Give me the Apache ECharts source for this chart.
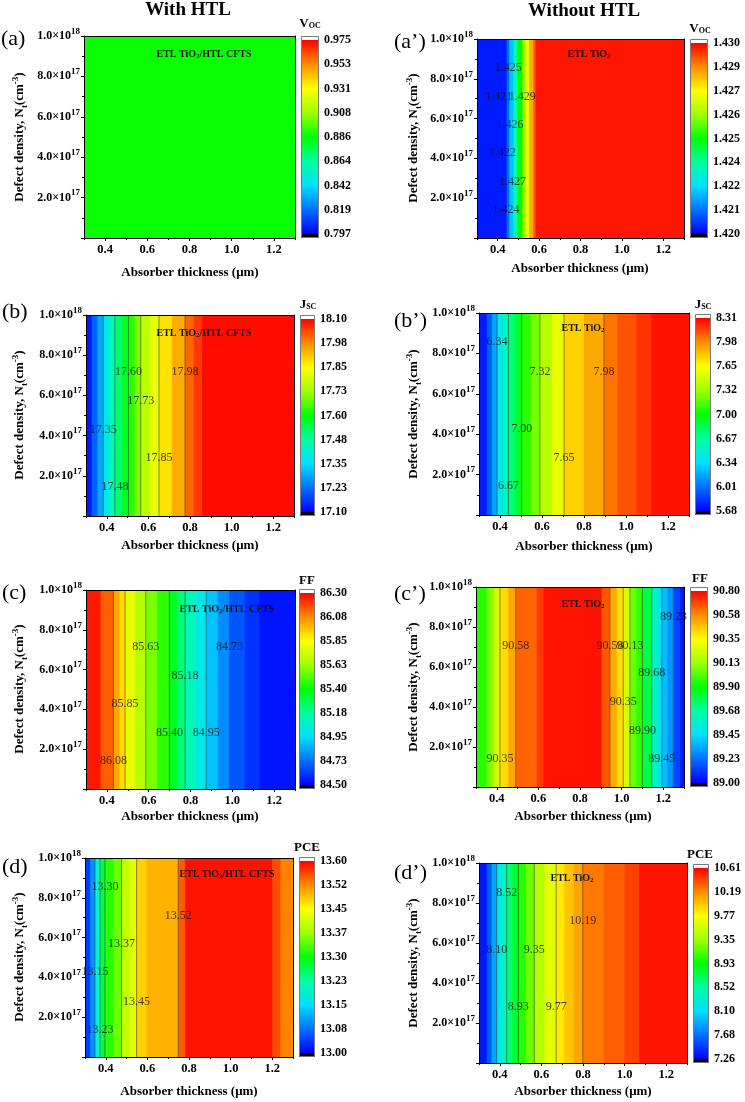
<!DOCTYPE html>
<html>
<head>
<meta charset="utf-8">
<script src="https://cdn.jsdelivr.net/npm/echarts@6.0.0/dist/echarts.min.js"></script>
<style>
html,body{margin:0;padding:0;background:#fff;}
#chart{width:745px;height:1102px;}
</style>
</head>
<body>
<div id="chart"></div>
<script>
// ================= DATA =================
// shared axes
const xTickVals = [0.4, 0.6, 0.8, 1.0, 1.2];
const xTickLabels = ['0.4', '0.6', '0.8', '1.0', '1.2'];
const xMinorTickVals = [0.3, 0.5, 0.7, 0.9, 1.1, 1.3];
const yTickVals = [2e17, 4e17, 6e17, 8e17, 1e18];
const yTickMant = ['2.0', '4.0', '6.0', '8.0', '1.0'];
const yTickExp = ['17', '17', '17', '17', '18'];

// (a) Voc, with HTL
const aEdges = [0.3, 1.3];
const aVals = [0.887];
const aRange = [0.797, 0.975];
const aCbarLabels = ['0.797','0.819','0.842','0.864','0.886','0.908','0.931','0.953','0.975'];
const aLineX = [];
const aLabX = [], aLabY = [], aLabT = [];

// (a') Voc, without HTL
const a2Edges = [0.3, 0.443, 0.456, 0.476, 0.495, 0.519, 0.535, 0.551, 0.572, 0.583, 1.3];
const a2Vals = [1.4203, 1.4212, 1.4222, 1.4235, 1.4250, 1.4262, 1.4273, 1.4284, 1.4292, 1.4298];
const a2Range = [1.420, 1.430];
const a2CbarLabels = ['1.420','1.421','1.422','1.424','1.425','1.426','1.427','1.429','1.430'];
const a2LineX = [];
const a2LabX = [0.451, 0.405, 0.519, 0.459, 0.422, 0.472, 0.440];
const a2LabY = [8.53e17, 7.11e17, 7.11e17, 5.69e17, 4.26e17, 2.84e17, 1.42e17];
const a2LabT = ['1.425','1.421','1.429','1.426','1.422','1.427','1.424'];

// (b) Jsc, with HTL
const bEdges = [0.3, 0.327, 0.355, 0.383, 0.411, 0.439, 0.472, 0.504, 0.534, 0.563, 0.607, 0.651, 0.713, 0.776, 0.818, 0.858, 1.3];
const bVals = [17.13, 17.21, 17.29, 17.38, 17.45, 17.51, 17.57, 17.63, 17.70, 17.76, 17.82, 17.88, 17.94, 18.01, 18.05, 18.09];
const bRange = [17.10, 18.10];
const bCbarLabels = ['17.10','17.23','17.35','17.48','17.60','17.73','17.85','17.98','18.10'];
const bLineX = [0.383, 0.439, 0.504, 0.563, 0.651, 0.776];
const bLabX = [0.504, 0.776, 0.563, 0.383, 0.651, 0.439];
const bLabY = [7.15e17, 7.15e17, 5.72e17, 4.28e17, 2.87e17, 1.43e17];
const bLabT = ['17.60','17.98','17.73','17.35','17.85','17.48'];

// (b') Jsc, without HTL
const b2Edges = [0.3, 0.337, 0.362, 0.386, 0.413, 0.44, 0.471, 0.503, 0.546, 0.59, 0.647, 0.705, 0.80, 0.895, 0.96, 1.05, 1.12, 1.3];
const b2Vals = [5.76, 5.96, 6.17, 6.42, 6.58, 6.75, 6.92, 7.08, 7.24, 7.40, 7.57, 7.78, 7.90, 8.04, 8.12, 8.19, 8.27];
const b2Range = [5.68, 8.31];
const b2CbarLabels = ['5.68','6.01','6.34','6.67','7.00','7.32','7.65','7.98','8.31'];
const b2LineX = [0.386, 0.44, 0.503, 0.59, 0.705, 0.895];
const b2LabX = [0.386, 0.59, 0.895, 0.503, 0.705, 0.44];
const b2LabY = [8.55e17, 7.07e17, 7.07e17, 4.26e17, 2.84e17, 1.44e17];
const b2LabT = ['6.34','7.32','7.98','7.00','7.65','6.67'];

// (c) FF, with HTL
const cEdges = [0.3, 0.37, 0.431, 0.46, 0.487, 0.535, 0.586, 0.64, 0.699, 0.735, 0.774, 0.825, 0.875, 0.93, 0.987, 1.06, 1.13, 1.3];
const cVals = [86.26, 86.15, 86.02, 85.92, 85.80, 85.68, 85.57, 85.46, 85.35, 85.23, 85.12, 85.01, 84.89, 84.78, 84.67, 84.60, 84.54];
const cRange = [84.50, 86.30];
const cCbarLabels = ['84.50','84.73','84.95','85.18','85.40','85.63','85.85','86.08','86.30'];
const cLineX = [0.431, 0.487, 0.586, 0.699, 0.774, 0.875, 0.987];
const cLabX = [0.586, 0.987, 0.774, 0.487, 0.699, 0.875, 0.431];
const cLabY = [7.12e17, 7.12e17, 5.69e17, 4.26e17, 2.84e17, 2.84e17, 1.39e17];
const cLabT = ['85.63','84.73','85.18','85.85','85.40','84.95','86.08'];

// (c') FF, without HTL
const c2Edges = [0.3, 0.351, 0.385, 0.415, 0.455, 0.491, 0.592, 0.624, 0.904, 0.944, 0.976, 1.008, 1.04, 1.07, 1.1, 1.145, 1.17, 1.193, 1.22, 1.249, 1.281, 1.3];
const c2Vals = [89.95, 90.08, 90.25, 90.42, 90.52, 90.64, 90.71, 90.77, 90.66, 90.52, 90.42, 90.25, 90.05, 89.97, 89.80, 89.60, 89.50, 89.38, 89.30, 89.14, 89.05];
const c2Range = [89.00, 90.80];
const c2CbarLabels = ['89.00','89.23','89.45','89.68','89.90','90.13','90.35','90.58','90.80'];
const c2LineX = [0.415, 0.491, 0.944, 1.008, 1.04, 1.1, 1.145, 1.193, 1.249];
const c2LabX = [1.249, 0.491, 0.944, 1.04, 1.145, 1.008, 1.1, 0.415, 1.193];
const c2LabY = [8.53e17, 7.08e17, 7.08e17, 7.08e17, 5.70e17, 4.28e17, 2.83e17, 1.42e17, 1.42e17];
const c2LabT = ['89.23','90.58','90.58','90.13','89.68','90.35','89.90','90.35','89.45'];

// (d) PCE, with HTL
const dEdges = [0.3, 0.325, 0.348, 0.372, 0.396, 0.436, 0.476, 0.512, 0.548, 0.595, 0.748, 0.78, 1.2, 1.24, 1.3];
const dVals = [13.04, 13.10, 13.19, 13.27, 13.32, 13.35, 13.40, 13.43, 13.48, 13.50, 13.55, 13.59, 13.56, 13.53];
const dRange = [13.00, 13.60];
const dCbarLabels = ['13.00','13.08','13.15','13.23','13.30','13.37','13.45','13.52','13.60'];
const dLineX = [0.348, 0.372, 0.396, 0.476, 0.548, 0.748];
const dLabX = [0.396, 0.748, 0.476, 0.348, 0.548, 0.372];
const dLabY = [8.55e17, 7.10e17, 5.68e17, 4.26e17, 2.79e17, 1.37e17];
const dLabT = ['13.30','13.52','13.37','13.15','13.45','13.23'];

// (d') PCE, without HTL
const d2Edges = [0.3, 0.337, 0.36, 0.385, 0.41, 0.433, 0.46, 0.489, 0.525, 0.566, 0.615, 0.671, 0.71, 0.755, 0.799, 0.9, 1.0, 1.07, 1.3];
const d2Vals = [7.35, 7.60, 7.88, 8.20, 8.40, 8.62, 8.82, 9.03, 9.22, 9.45, 9.65, 9.85, 9.98, 10.10, 10.25, 10.33, 10.42, 10.55];
const d2Range = [7.26, 10.61];
const d2CbarLabels = ['7.26','7.68','8.10','8.52','8.93','9.35','9.77','10.19','10.61'];
const d2LineX = [0.385, 0.433, 0.489, 0.566, 0.671, 0.799];
const d2LabX = [0.433, 0.799, 0.385, 0.566, 0.489, 0.671];
const d2LabY = [8.53e17, 7.12e17, 5.67e17, 5.67e17, 2.83e17, 2.83e17];
const d2LabT = ['8.52','10.19','8.10','9.35','8.93','9.77'];

// ================= LAYOUT / STYLE =================
const FONT = 'Liberation Serif';
const palette = ['#0000ff','#0070ff','#00e0ff','#00ffa0','#00ff00','#a0ff00','#ffff00','#ff8c00','#ff0000'];
const CAP = 4;

const panels = [
  {edges:aEdges, vals:aVals, range:aRange, cbar:aCbarLabels, lineX:aLineX, labX:aLabX, labY:aLabY, labT:aLabT,
   g:[84,36,211,202], cb:[301,36,18,202], title:'{b|V}{s|OC}', tt:[310,22], letter:'(a)', lt:[1,39],
   ann:'{n|ETL TiO}{s|2}{n|/HTL CFTS}', at:[204,53], xn:[190,273], yn:[20,137]},
  {edges:a2Edges, vals:a2Vals, range:a2Range, cbar:a2CbarLabels, lineX:a2LineX, labX:a2LabX, labY:a2LabY, labT:a2LabT,
   g:[477,39,207,199], cb:[690,39,18,199], title:'{b|V}{s|OC}', tt:[700,27], letter:'(a\u2019)', lt:[394,42],
   ann:'{n|ETL TiO}{s|2}', at:[589,53], xn:[580,269], yn:[414,138]},
  {edges:bEdges, vals:bVals, range:bRange, cbar:bCbarLabels, lineX:bLineX, labX:bLabX, labY:bLabY, labT:bLabT,
   g:[86,315,208,201], cb:[300,315,15,201], title:'{b|J}{s|SC}', tt:[308,303], letter:'(b)', lt:[2,312],
   ann:'{n|ETL TiO}{s|2}{n|/HTL CFTS}', at:[204,332], xn:[190,546], yn:[20,415]},
  {edges:b2Edges, vals:b2Vals, range:b2Range, cbar:b2CbarLabels, lineX:b2LineX, labX:b2LabX, labY:b2LabY, labT:b2LabT,
   g:[479,313,210,202], cb:[695,314,16,201], title:'{b|J}{s|SC}', tt:[703,303], letter:'(b\u2019)', lt:[394,321],
   ann:'{n|ETL TiO}{s|2}', at:[583,327], xn:[584,547], yn:[414,414]},
  {edges:cEdges, vals:cVals, range:cRange, cbar:cCbarLabels, lineX:cLineX, labX:cLabX, labY:cLabY, labT:cLabT,
   g:[86,590,209,199], cb:[299,589,16,200], title:'{b|FF}', tt:[307,579], letter:'(c)', lt:[2,593],
   ann:'{n|ETL TiO}{s|2}{n|/HTL CFTS}', at:[227,608], xn:[190,817], yn:[20,689]},
  {edges:c2Edges, vals:c2Vals, range:c2Range, cbar:c2CbarLabels, lineX:c2LineX, labX:c2LabX, labY:c2LabY, labT:c2LabT,
   g:[476,587,208,200], cb:[690,587,18,200], title:'{b|FF}', tt:[700,577], letter:'(c\u2019)', lt:[394,594],
   ann:'{n|ETL TiO}{s|2}', at:[583,603], xn:[583,817], yn:[414,687]},
  {edges:dEdges, vals:dVals, range:dRange, cbar:dCbarLabels, lineX:dLineX, labX:dLabX, labY:dLabY, labT:dLabT,
   g:[85,858,208,199], cb:[299,857,16,200], title:'{b|PCE}', tt:[307,846], letter:'(d)', lt:[2,867],
   ann:'{n|ETL TiO}{s|2}{n|/HTL CFTS}', at:[227,873], xn:[189,1092], yn:[20,957]},
  {edges:d2Edges, vals:d2Vals, range:d2Range, cbar:d2CbarLabels, lineX:d2LineX, labX:d2LabX, labY:d2LabY, labT:d2LabT,
   g:[479,863,208,200], cb:[693,864,16,199], title:'{b|PCE}', tt:[700,853], letter:'(d\u2019)', lt:[394,873],
   ann:'{n|ETL TiO}{s|2}', at:[572,877], xn:[583,1092], yn:[414,963]}
];

function nearestIdx(arr, v) {
  let best = 0, bd = Infinity;
  arr.forEach((t, k) => { const d = Math.abs(t - v); if (d < bd) { bd = d; best = k; } });
  return best;
}
const gradStops = palette.map((c, k) => ({offset: k / (palette.length - 1), color: c}));

const option = {
  animation: false,
  backgroundColor: '#ffffff',
  grid: [], xAxis: [], yAxis: [], series: [], visualMap: [],
  graphic: {elements: []}
};

function T(x, y, text, st, extra) {
  return Object.assign({type: 'text', x: x, y: y, z: 100, silent: true,
    style: Object.assign({text: text, fill: '#000', fontFamily: FONT, fontSize: 12, align: 'center', verticalAlign: 'middle'}, st)}, extra || {});
}

panels.forEach((p, i) => {
  const [gl, gt, gw, gh] = p.g;
  const [cl, ct, cw, ch] = p.cb;
  const gMain = option.grid.length;
  option.grid.push({left: gl, top: gt, width: gw, height: gh, outerBoundsMode: 'none'});
  const gBar = option.grid.length;
  option.grid.push({left: cl, top: ct + CAP, width: cw, height: ch - 2 * CAP, outerBoundsMode: 'none'});

  const xi = option.xAxis.length;
  option.xAxis.push(
    {gridIndex: gMain, type: 'value', min: 0.3, max: 1.3, position: 'bottom', z: 5,
     axisLine: {show: true, onZero: false, lineStyle: {color: '#000', width: 1}},
     axisTick: {show: true, customValues: xTickVals, length: 3, lineStyle: {color: '#000'}},
     axisLabel: {show: true, customValues: xTickVals, margin: 5, fontFamily: FONT, fontWeight: 'bold', fontSize: 12.5, color: '#000',
       formatter: v => xTickLabels[nearestIdx(xTickVals, v)]},
     splitLine: {show: false}},
    {gridIndex: gMain, type: 'value', min: 0.3, max: 1.3, position: 'bottom', z: 5,
     axisLine: {show: false}, axisLabel: {show: false},
     axisTick: {show: true, customValues: xMinorTickVals, length: 2, lineStyle: {color: '#000'}},
     splitLine: {show: false}},
    {gridIndex: gMain, type: 'value', min: 0.3, max: 1.3, position: 'top', z: 5,
     axisLine: {show: true, onZero: false, lineStyle: {color: '#000', width: 1}},
     axisTick: {show: false}, axisLabel: {show: false}, splitLine: {show: false}},
    {gridIndex: gBar, type: 'value', min: 0, max: 1, show: false}
  );

  const yi = option.yAxis.length;
  const step = (p.range[1] - p.range[0]) / (p.cbar.length - 1);
  const cbPos = p.cbar.map((s, k) => p.range[0] + k * step);
  option.yAxis.push(
    {gridIndex: gMain, type: 'value', min: 0, max: 1e18, interval: 2e17, position: 'left', z: 5,
     axisLine: {show: true, onZero: false, lineStyle: {color: '#000', width: 1}},
     axisTick: {show: true, length: 3, lineStyle: {color: '#000'}},
     minorTick: {show: true, splitNumber: 2, length: 2, lineStyle: {color: '#000'}},
     axisLabel: {margin: 4, fontFamily: FONT, fontWeight: 'bold', fontSize: 12, color: '#000', lineHeight: 18,
       formatter: v => { const k = yTickVals.findIndex(t => Math.abs(t - v) < 1e15); return k < 0 ? '' : yTickMant[k] + '\u00d710{sup|' + yTickExp[k] + '}'; },
       rich: {sup: {fontFamily: FONT, fontWeight: 'bold', fontSize: 9, color: '#000', verticalAlign: 'top', lineHeight: 10}}},
     splitLine: {show: false}, minorSplitLine: {show: false}},
    {gridIndex: gMain, type: 'value', min: 0, max: 1e18, position: 'right', z: 5,
     axisLine: {show: true, onZero: false, lineStyle: {color: '#000', width: 1}},
     axisTick: {show: false}, axisLabel: {show: false}, splitLine: {show: false}},
    {gridIndex: gBar, type: 'value', min: p.range[0], max: p.range[1], position: 'right',
     axisLine: {show: false},
     axisTick: {show: true, customValues: cbPos, length: 3, lineStyle: {color: '#000'}},
     axisLabel: {show: true, customValues: cbPos, margin: 5, fontFamily: FONT, fontWeight: 'bold', fontSize: 12, color: '#000',
       formatter: v => p.cbar[Math.round((v - p.range[0]) / step)]},
     splitLine: {show: false}}
  );

  const si = option.series.length;
  // contour-fill bands
  option.series.push({
    type: 'custom', xAxisIndex: xi, yAxisIndex: yi, silent: true, z: 2,
    data: p.vals.map((v, k) => [p.edges[k], p.edges[k + 1], v]),
    renderItem: (params, api) => {
      const x0 = api.value(0), x1 = api.value(1);
      const a = api.coord([x0, 1e18]), b = api.coord([x1, 0]);
      const w = b[0] - a[0] + (x1 < 1.299 ? 0.8 : 0);
      return {type: 'rect', shape: {x: a[0], y: a[1], width: w, height: b[1] - a[1]}, style: {fill: api.visual('color')}};
    }
  });
  option.visualMap.push({type: 'continuous', show: false, seriesIndex: si, dimension: 2,
    min: p.range[0], max: p.range[1], inRange: {color: palette}});
  // contour lines
  option.series.push({
    type: 'custom', xAxisIndex: xi, yAxisIndex: yi, silent: true, z: 3,
    data: p.lineX.map(x => [x, 0]),
    renderItem: (params, api) => {
      const a = api.coord([api.value(0), 1e18]), b = api.coord([api.value(0), 0]);
      return {type: 'line', shape: {x1: a[0], y1: a[1], x2: b[0], y2: b[1]}, style: {stroke: '#3c3c3c', lineWidth: 0.8, opacity: 0.75}};
    }
  });
  // contour labels
  option.series.push({
    type: 'scatter', xAxisIndex: xi, yAxisIndex: yi, silent: true, z: 4,
    symbolSize: 0, itemStyle: {color: 'rgba(0,0,0,0)'},
    data: p.labX.map((x, k) => ({name: p.labT[k], value: [x, p.labY[k]]})),
    label: {show: true, position: 'inside', formatter: '{b}', fontFamily: FONT, fontSize: 12, color: '#111'}
  });
  // colour bar
  option.series.push({
    type: 'custom', xAxisIndex: xi + 3, yAxisIndex: yi + 2, silent: true, z: 2,
    data: [[0, p.range[0]]],
    renderItem: (params, api) => {
      const t = api.coord([0, p.range[1]]), b = api.coord([1, p.range[0]]);
      const x = t[0], w = b[0] - t[0], y0 = t[1], h = b[1] - t[1];
      return {type: 'group', children: [
        {type: 'rect', shape: {x: x, y: y0 - CAP, width: w, height: CAP}, style: {fill: '#ffffff'}},
        {type: 'rect', shape: {x: x, y: y0, width: w, height: h}, style: {fill: {type: 'linear', x: 0, y: 1, x2: 0, y2: 0, colorStops: gradStops}}},
        {type: 'rect', shape: {x: x, y: y0 + h, width: w, height: CAP}, style: {fill: '#000000'}},
        {type: 'rect', shape: {x: x + 0.5, y: y0 - CAP + 0.5, width: w - 1, height: h + 2 * CAP - 1}, style: {fill: 'none', stroke: '#7a7a7a', lineWidth: 1}}
      ]};
    }
  });

  const G = option.graphic.elements;
  G.push(T(p.lt[0], p.lt[1], p.letter, {fontSize: 22, align: 'left'}));
  G.push(T(p.tt[0], p.tt[1], p.title, {
    rich: {b: {fontFamily: FONT, fontWeight: 'bold', fontSize: 13, fill: '#000', lineHeight: 16, verticalAlign: 'bottom'},
           s: {fontFamily: FONT, fontWeight: 'bold', fontSize: 8, fill: '#000', lineHeight: 10, verticalAlign: 'bottom'}}}));
  G.push(T(p.at[0], p.at[1], p.ann, {
    rich: {n: {fontFamily: FONT, fontWeight: 'bold', fontSize: 10, fill: '#111', lineHeight: 13, verticalAlign: 'bottom'},
           s: {fontFamily: FONT, fontWeight: 'bold', fontSize: 7, fill: '#111', lineHeight: 9, verticalAlign: 'bottom'}}}));
  G.push(T(p.xn[0], p.xn[1], 'Absorber thickness (\u03bcm)', {fontSize: 13, fontWeight: 'bold'}));
  G.push(T(p.yn[0], p.yn[1], '{n|Defect density, N}{sub|t}{n|(cm}{sup|-3}{n|)}', {
    rich: {n: {fontFamily: FONT, fontWeight: 'bold', fontSize: 13, fill: '#000', lineHeight: 18, verticalAlign: 'middle'},
           sub: {fontFamily: FONT, fontWeight: 'bold', fontSize: 9, fill: '#000', lineHeight: 10, verticalAlign: 'bottom'},
           sup: {fontFamily: FONT, fontWeight: 'bold', fontSize: 9, fill: '#000', lineHeight: 10, verticalAlign: 'top'}}},
    {rotation: Math.PI / 2}));
});

option.graphic.elements.push(T(188, 10, 'With HTL', {fontSize: 19, fontWeight: 'bold'}));
option.graphic.elements.push(T(584, 11, 'Without HTL', {fontSize: 19, fontWeight: 'bold'}));

const chart = echarts.init(document.getElementById('chart'), null, {renderer: 'canvas'});
chart.setOption(option);
</script>
</body>
</html>
